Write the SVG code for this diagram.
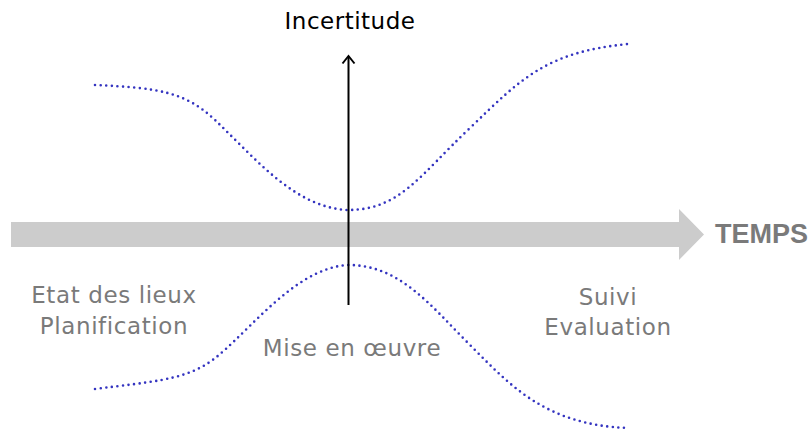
<svg xmlns="http://www.w3.org/2000/svg" width="811" height="430" viewBox="0 0 811 430">
<defs>
<style>
.lbl{font-family:"DejaVu Sans","Liberation Sans",sans-serif;font-size:23px;fill:#7a7a7a;text-anchor:middle;letter-spacing:0.6px}
.curve{fill:none;stroke:#3434c0;stroke-width:2.6;stroke-linecap:round;stroke-dasharray:0 5.6}
</style>
</defs>
<rect width="811" height="430" fill="#fff"/>
<g id="time-axis">
<polygon points="11,222 679,222 679,209 704,234.5 679,260 679,247 11,247" fill="#cccccc"/>
<text x="715" y="243" font-family="Liberation Sans, Arial, sans-serif" font-weight="bold" font-size="27" fill="#7a7a7a">TEMPS</text>
</g>
<g id="curves">
<path class="curve" d="M95,85 C160,88 185,92 215,120 C255,158 295,208 348,210 C400,210 420,175 470,128 C520,80 545,52 628,44"/>
<path class="curve" d="M95,389 C150,382 180,380 205,365 C240,345 290,268 348,265 C400,265 430,305 470,345 C510,385 545,425 628,428"/>
</g>
<g id="connectors">
<line x1="348.5" y1="305" x2="348.5" y2="57" stroke="#000" stroke-width="2"/>
<path d="M342.5,63.5 L348.5,56 L354.5,63.5" fill="none" stroke="#000" stroke-width="2"/>
</g>
<g id="incertitude">
<text x="350" y="29" font-family="DejaVu Sans, sans-serif" font-size="23" fill="#000" text-anchor="middle" letter-spacing="0.5">Incertitude</text>
</g>
<g id="etat">
<text class="lbl" x="114" y="303">Etat des lieux</text>
<text class="lbl" x="114" y="334">Planification</text>
</g>
<g id="mise">
<text class="lbl" x="352" y="356">Mise en œuvre</text>
</g>
<g id="suivi">
<text class="lbl" x="608" y="305">Suivi</text>
<text class="lbl" x="608" y="335">Evaluation</text>
</g>
</svg>
